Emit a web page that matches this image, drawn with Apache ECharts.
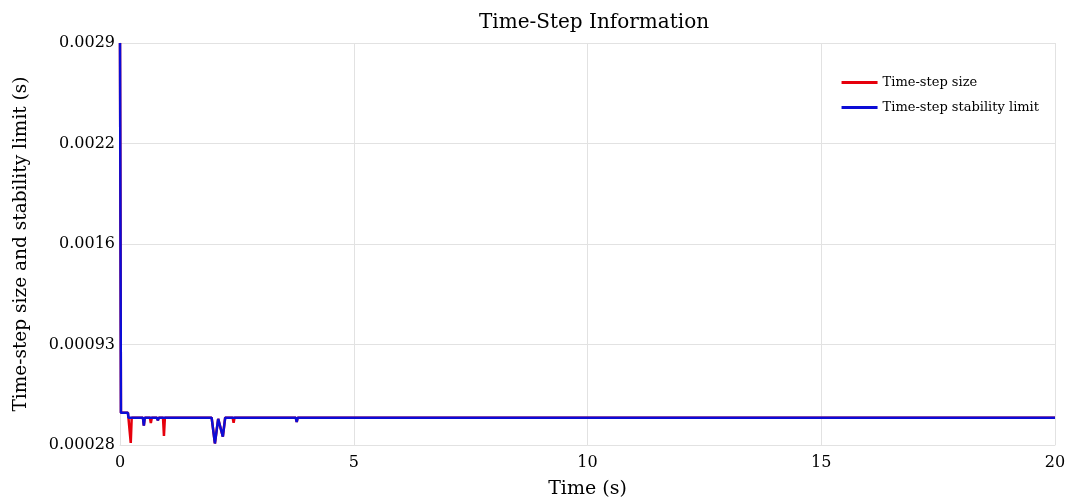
<!DOCTYPE html>
<html>
<head>
<meta charset="utf-8">
<script src="https://cdn.jsdelivr.net/npm/echarts@6/dist/echarts.min.js"></script>
<style>html,body{margin:0;padding:0;background:#fff}#c{width:1069px;height:500px}</style>
</head>
<body>
<div id="c"></div>
<script>
const yTickValues = [0.00028, 0.000935, 0.00159, 0.002245, 0.0029];
const yTickLabels = ['0.00028', '0.00093', '0.0016', '0.0022', '0.0029'];
const xTickLabels = ['0', '5', '10', '15', '20'];

const sizeTime  = [0, 0.01, 0.02, 0.17, 0.18, 0.21, 0.23, 0.25, 0.49, 0.51, 0.53, 0.64, 0.66, 0.68, 0.79, 0.81, 0.83, 0.92, 0.94, 0.96, 1.96, 2.03, 2.10, 2.14, 2.20, 2.25, 2.41, 2.43, 2.45, 3.76, 3.78, 3.80, 20];
const sizeValue = [0.0029, 0.00175, 0.00049, 0.00049, 0.000458, 0.000458, 0.000293, 0.000458, 0.000458, 0.000406, 0.000458, 0.000458, 0.000423, 0.000458, 0.000458, 0.00044, 0.000458, 0.000458, 0.000339, 0.000458, 0.000458, 0.00029, 0.00045, 0.00044, 0.000334, 0.000458, 0.000458, 0.000425, 0.000458, 0.000458, 0.00043, 0.000458, 0.000458];

const limitTime  = [0, 0.01, 0.02, 0.17, 0.18, 0.49, 0.51, 0.53, 0.79, 0.81, 0.83, 1.96, 2.03, 2.10, 2.14, 2.20, 2.25, 3.76, 3.78, 3.80, 20];
const limitValue = [0.0029, 0.00175, 0.00049, 0.00049, 0.000458, 0.000458, 0.000406, 0.000458, 0.000458, 0.00044, 0.000458, 0.000458, 0.00029, 0.00045, 0.00044, 0.000334, 0.000458, 0.000458, 0.00043, 0.000458, 0.000458];

const font = "'DejaVu Serif', 'Liberation Serif', serif";
const pairs = (t, v) => t.map((x, i) => [x, v[i]]);

const chart = echarts.init(document.getElementById('c'));
chart.setOption({
  animation: false,
  backgroundColor: '#fff',
  title: {
    text: 'Time-Step Information', left: 474, top: 8,
    textStyle: { fontFamily: font, fontSize: 20, fontWeight: 'normal', color: '#000' }
  },
  legend: {
    orient: 'vertical', right: 25, top: 71, itemWidth: 36, itemHeight: 3, itemGap: 12,
    icon: 'rect',
    textStyle: { fontFamily: font, fontSize: 13, color: '#000' },
    data: ['Time-step size', 'Time-step stability limit']
  },
  grid: { left: 120, right: 14, top: 43, bottom: 55, containLabel: false, outerBoundsMode: 'none' },
  xAxis: {
    type: 'value', min: 0, max: 20, interval: 5,
    name: 'Time (s)', nameLocation: 'middle', nameGap: 35,
    nameTextStyle: { fontFamily: font, fontSize: 19, color: '#000' },
    axisLine: { show: true, lineStyle: { color: '#e2e2e2', width: 1 } },
    axisTick: { show: false },
    axisLabel: { fontFamily: font, fontSize: 16, color: '#000', margin: 10,
      formatter: (v) => xTickLabels[Math.round(v / 5)] },
    splitLine: { show: true, lineStyle: { color: '#e2e2e2', width: 1 } }
  },
  yAxis: {
    type: 'value', min: 0.00028, max: 0.0029,
    name: 'Time-step size and stability limit (s)', nameLocation: 'middle', nameGap: 89,
    nameTextStyle: { fontFamily: font, fontSize: 18.5, color: '#000' },
    axisLine: { show: true, lineStyle: { color: '#e2e2e2' } },
    axisTick: { show: false, customValues: yTickValues },
    axisLabel: { fontFamily: font, fontSize: 16, color: '#000', margin: 5,
      customValues: yTickValues,
      formatter: (v) => {
        let best = 0;
        yTickValues.forEach((t, i) => { if (Math.abs(t - v) < Math.abs(yTickValues[best] - v)) best = i; });
        return yTickLabels[best];
      } },
    splitLine: { show: true, lineStyle: { color: '#e2e2e2', width: 1 } }
  },
  series: [
    { name: 'Time-step size', type: 'line', showSymbol: false, symbol: 'none',
      data: pairs(sizeTime, sizeValue), color: '#e6000c',
      lineStyle: { width: 2.5, color: '#e6000c' } },
    { name: 'Time-step stability limit', type: 'line', showSymbol: false, symbol: 'none',
      data: pairs(limitTime, limitValue), color: '#0c0cd6',
      lineStyle: { width: 2.5, color: '#0c0cd6' } }
  ]
});
</script>
</body>
</html>
